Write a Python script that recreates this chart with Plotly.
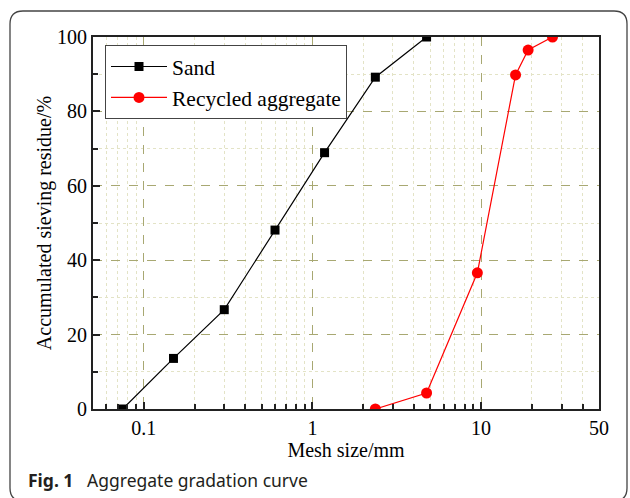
import plotly.graph_objects as go

# Sieve sizes (mm) and cumulative retained percentages
sand_size = [0.075, 0.15, 0.3, 0.6, 1.18, 2.36, 4.75]
sand_residue = [0.0, 13.6, 26.7, 48.1, 68.9, 89.2, 100.0]

ra_size = [2.36, 4.75, 9.5, 16.0, 19.0, 26.5]
ra_residue = [0.0, 4.3, 36.6, 89.8, 96.5, 100.0]

x_major_ticks = [0.1, 1, 10, 50]
x_major_text = ["0.1", "1", "10", "50"]
x_minor_ticks = [0.06, 0.07, 0.08, 0.09, 0.2, 0.3, 0.4, 0.5, 0.6, 0.7, 0.8, 0.9,
                 2, 3, 4, 5, 6, 7, 8, 9, 20, 30, 40]

W, H = 630, 498
ML, MR, MT, MB = 93, 31, 37, 89
PW, PH = W - ML - MR, H - MT - MB

serif = "Liberation Serif, Times New Roman, serif"

fig = go.Figure()
fig.add_trace(go.Scatter(
    x=sand_size, y=sand_residue, mode="lines+markers", name="Sand",
    line=dict(color="black", width=1.2),
    marker=dict(symbol="square", size=9, color="black"),
))
fig.add_trace(go.Scatter(
    x=ra_size, y=ra_residue, mode="lines+markers", name="Recycled aggregate",
    line=dict(color="#ff0000", width=1.2),
    marker=dict(symbol="circle", size=11, color="#ff0000"),
))


def px_x(x):
    return (x - ML) / PW


def px_y(y):
    return (H - MB - y) / PH


# rounded frame around the whole figure
fx0, fx1, fy0, fy1, r = 10, 627, 11, 501, 13
pts = [
    f"M {px_x(fx0 + r)} {px_y(fy0)}",
    f"L {px_x(fx1 - r)} {px_y(fy0)}",
    f"Q {px_x(fx1)} {px_y(fy0)} {px_x(fx1)} {px_y(fy0 + r)}",
    f"L {px_x(fx1)} {px_y(fy1 - r)}",
    f"Q {px_x(fx1)} {px_y(fy1)} {px_x(fx1 - r)} {px_y(fy1)}",
    f"L {px_x(fx0 + r)} {px_y(fy1)}",
    f"Q {px_x(fx0)} {px_y(fy1)} {px_x(fx0)} {px_y(fy1 - r)}",
    f"L {px_x(fx0)} {px_y(fy0 + r)}",
    f"Q {px_x(fx0)} {px_y(fy0)} {px_x(fx0 + r)} {px_y(fy0)}",
    "Z",
]
fig.add_shape(type="path", path=" ".join(pts), xref="paper", yref="paper",
              line=dict(color="#444444", width=1.3), layer="below")

fig.add_annotation(
    text="<b>Fig. 1</b>   Aggregate gradation curve",
    xref="paper", yref="paper", x=px_x(26), y=px_y(480),
    xanchor="left", yanchor="middle", showarrow=False,
    font=dict(family="Noto Sans, Open Sans, sans-serif", size=17.5, color="#231f20"),
)

fig.update_layout(
    width=W, height=H,
    margin=dict(l=ML, r=MR, t=MT, b=MB),
    paper_bgcolor="white", plot_bgcolor="white",
    font=dict(family=serif, size=20, color="black"),
    showlegend=True,
    legend=dict(
        x=px_x(105), y=px_y(45), xanchor="left", yanchor="top",
        bgcolor="white", bordercolor="#444444", borderwidth=1,
        font=dict(family=serif, size=21.5, color="black"),
        tracegroupgap=0, itemwidth=56,
    ),
)

fig.update_xaxes(
    type="log", range=[-1.30103, 1.69897],
    tickmode="array", tickvals=x_major_ticks, ticktext=x_major_text,
    ticks="inside", ticklen=7, tickwidth=1.5, tickcolor="#222",
    showline=True, linecolor="#222", linewidth=2, mirror=True,
    showgrid=True, gridcolor="#a8a872", griddash="dash", gridwidth=1,
    minor=dict(tickvals=x_minor_ticks, ticks="inside", ticklen=5, tickcolor="#222",
               showgrid=True, gridcolor="#e3e3c6", griddash="dot", gridwidth=1),
    tickfont=dict(family=serif, size=20),
    title=dict(text="Mesh size/mm", font=dict(family=serif, size=20), standoff=4),
    zeroline=False,
)
fig.update_yaxes(
    range=[0, 100], tickmode="array", tickvals=[0, 20, 40, 60, 80, 100],
    ticks="inside", ticklen=7, tickwidth=1.5, tickcolor="#222",
    showline=True, linecolor="#222", linewidth=2, mirror=True,
    showgrid=True, gridcolor="#a8a872", griddash="dash", gridwidth=1,
    minor=dict(tickvals=[10, 30, 50, 70, 90], ticks="inside", ticklen=5, tickcolor="#222",
               showgrid=True, gridcolor="#e3e3c6", griddash="dot", gridwidth=1),
    tickfont=dict(family=serif, size=20),
    title=dict(text="Accumulated sieving residue/%", font=dict(family=serif, size=20), standoff=0),
    zeroline=False,
)

fig.write_html("out.html")
